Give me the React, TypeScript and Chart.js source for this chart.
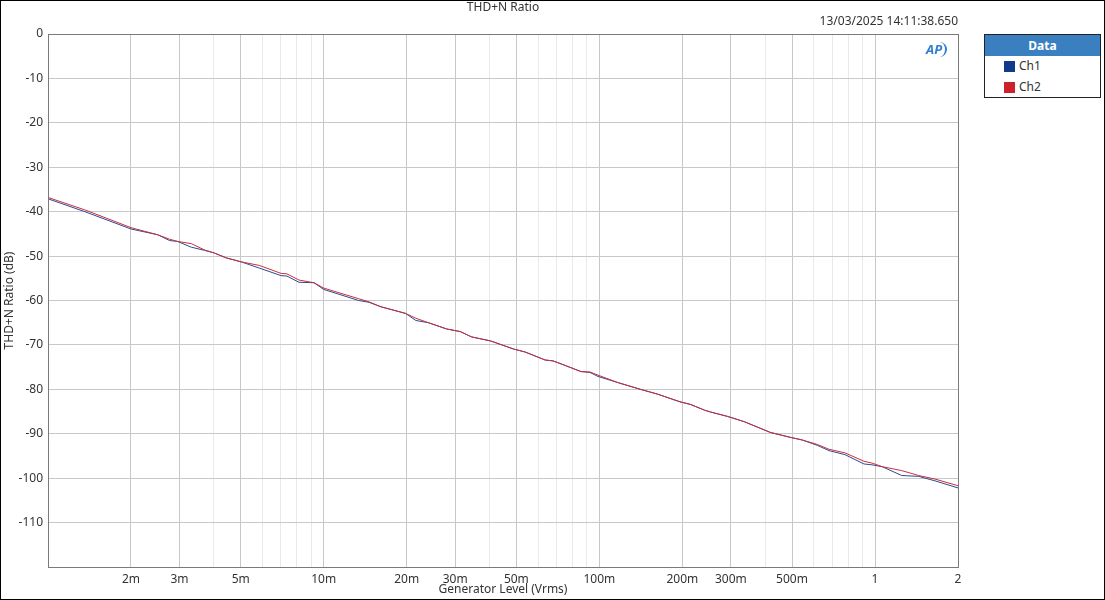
import React, { useEffect, useRef } from "react";
import { Chart, registerables } from "chart.js";

Chart.register(...registerables);

const levels = [0.001, 0.00136, 0.002, 0.0025, 0.00276, 0.00295, 0.00331, 0.00369, 0.00401, 0.00443, 0.00502, 0.00584, 0.00701, 0.00736, 0.00814, 0.00922, 0.01, 0.0134, 0.0146, 0.0161, 0.0198, 0.0216, 0.024, 0.0279, 0.0313, 0.0344, 0.0403, 0.0487, 0.0538, 0.0636, 0.068, 0.0757, 0.0858, 0.0925, 0.0989, 0.117, 0.141, 0.163, 0.196, 0.214, 0.241, 0.253, 0.292, 0.336, 0.417, 0.492, 0.544, 0.617, 0.681, 0.778, 0.912, 0.975, 1.06, 1.25, 1.44, 1.65, 2.0];

const ch1 = [-37.1, -40.0, -43.9, -45.2, -46.5, -46.7, -48.0, -48.7, -49.3, -50.4, -51.3, -52.7, -54.4, -54.5, -55.9, -56.0, -57.5, -60.0, -60.4, -61.4, -62.9, -64.5, -65.0, -66.4, -67.0, -68.2, -69.1, -70.9, -71.6, -73.4, -73.6, -74.7, -76.0, -76.2, -77.1, -78.5, -80.0, -81.1, -82.8, -83.4, -84.7, -85.1, -86.1, -87.3, -89.7, -90.8, -91.4, -92.6, -93.8, -94.7, -96.8, -97.0, -97.4, -99.4, -99.6, -100.6, -102.2];

const ch2 = [-36.8, -39.6, -43.6, -45.2, -46.2, -46.7, -47.2, -48.6, -49.3, -50.4, -51.3, -52.1, -53.9, -54.0, -55.4, -56.0, -57.2, -59.6, -60.3, -61.4, -62.9, -64.0, -65.0, -66.4, -67.0, -68.2, -69.1, -70.9, -71.6, -73.4, -73.6, -74.7, -76.0, -76.1, -76.8, -78.5, -80.0, -81.1, -82.8, -83.4, -84.7, -85.1, -86.1, -87.3, -89.7, -90.8, -91.4, -92.4, -93.5, -94.3, -96.2, -96.6, -97.4, -98.3, -99.4, -100.2, -101.7];

const xTickValues = [
  0.001, 0.002, 0.003, 0.004, 0.005, 0.006, 0.007, 0.008, 0.009,
  0.01, 0.02, 0.03, 0.04, 0.05, 0.06, 0.07, 0.08, 0.09,
  0.1, 0.2, 0.3, 0.4, 0.5, 0.6, 0.7, 0.8, 0.9,
  1, 2,
];
const xLabelValues = [0.002, 0.003, 0.005, 0.01, 0.02, 0.03, 0.05, 0.1, 0.2, 0.3, 0.5, 1, 2];
const xLabelTexts = ["2m", "3m", "5m", "10m", "20m", "30m", "50m", "100m", "200m", "300m", "500m", "1", "2"];
const yTickValues = [0, -10, -20, -30, -40, -50, -60, -70, -80, -90, -100, -110, -120];
const yLabelValues = [0, -10, -20, -30, -40, -50, -60, -70, -80, -90, -100, -110];

const FONT = "'Noto Sans', 'DejaVu Sans', sans-serif";
const CH1_COLOR = "#2a4a94";
const CH2_COLOR = "#c8303a";

function labelIndex(v: number): number {
  return xLabelValues.findIndex((l) => Math.abs(l - v) / l < 1e-6);
}

const framePlugin = {
  id: "frame",
  afterDraw(chart: any) {
    const { ctx, chartArea } = chart;
    ctx.save();
    ctx.strokeStyle = "#7a7a7a";
    ctx.lineWidth = 1;
    ctx.strokeRect(
      Math.round(chartArea.left) + 0.5,
      Math.round(chartArea.top) + 0.5,
      Math.round(chartArea.right - chartArea.left),
      Math.round(chartArea.bottom - chartArea.top)
    );
    ctx.restore();
  },
};

export default function App() {
  const canvasRef = useRef<HTMLCanvasElement | null>(null);

  useEffect(() => {
    if (!canvasRef.current) return;
    const chart = new Chart(canvasRef.current, {
      type: "line",
      data: {
        datasets: [
          {
            label: "Ch1",
            data: levels.map((x, i) => ({ x, y: ch1[i] })),
            borderColor: CH1_COLOR,
            backgroundColor: CH1_COLOR,
            borderWidth: 1,
            pointRadius: 0,
            tension: 0,
            order: 1,
          },
          {
            label: "Ch2",
            data: levels.map((x, i) => ({ x, y: ch2[i] })),
            borderColor: CH2_COLOR,
            backgroundColor: CH2_COLOR,
            borderWidth: 1,
            pointRadius: 0,
            tension: 0,
            order: 0,
          },
        ],
      },
      options: {
        animation: false,
        responsive: false,
        maintainAspectRatio: false,
        layout: { padding: { top: 34, right: 147, left: 0, bottom: 0 } },
        plugins: {
          legend: { display: false },
          tooltip: { enabled: false },
          title: { display: false },
        },
        scales: {
          x: {
            type: "logarithmic",
            min: 0.001,
            max: 2,
            afterBuildTicks: (scale: any) => {
              scale.ticks = xTickValues.map((v) => ({ value: v }));
            },
            afterFit: (scale: any) => {
              scale.height = 33;
            },
            border: { display: false },
            grid: {
              drawTicks: false,
              color: (ctx: any) =>
                ctx.tick && labelIndex(ctx.tick.value) >= 0 ? "#c8c8c8" : "#e9e9e9",
              lineWidth: 1,
            },
            ticks: {
              autoSkip: false,
              maxRotation: 0,
              padding: 5,
              color: "#333333",
              font: { family: FONT, size: 12 },
              callback: (value: any) => {
                const i = labelIndex(Number(value));
                return i >= 0 ? xLabelTexts[i] : "";
              },
            },
            title: {
              display: true,
              text: "Generator Level (Vrms)",
              color: "#333333",
              font: { family: FONT, size: 12 },
              padding: { top: 0, bottom: 3 },
            },
          },
          y: {
            type: "linear",
            min: -120,
            max: 0,
            afterBuildTicks: (scale: any) => {
              scale.ticks = yTickValues.map((v) => ({ value: v }));
            },
            afterFit: (scale: any) => {
              scale.width = 48;
            },
            border: { display: false },
            grid: {
              drawTicks: false,
              color: "#c8c8c8",
              lineWidth: 1,
            },
            ticks: {
              padding: 5,
              color: "#333333",
              font: { family: FONT, size: 12 },
              callback: (value: any) =>
                yLabelValues.includes(Number(value)) ? String(value) : "",
            },
            title: {
              display: true,
              text: "THD+N Ratio (dB)",
              color: "#333333",
              font: { family: FONT, size: 12 },
              padding: { top: 2, bottom: 0 },
            },
          },
        },
      },
      plugins: [framePlugin],
    } as any);
    return () => chart.destroy();
  }, []);

  const text: React.CSSProperties = {
    position: "absolute",
    fontFamily: FONT,
    fontSize: 12,
    color: "#333333",
    lineHeight: "14px",
    whiteSpace: "nowrap",
  };

  return (
    <div
      style={{
        position: "fixed",
        left: 0,
        top: 0,
        width: 1105,
        height: 600,
        background: "#ffffff",
        overflow: "hidden",
      }}
    >
      <canvas
        ref={canvasRef}
        width={1105}
        height={600}
        style={{ position: "absolute", left: 0, top: 0, width: 1105, height: 600 }}
      />
      <div style={{ ...text, left: 48, width: 910, top: 0, textAlign: "center" }}>THD+N Ratio</div>
      <div style={{ ...text, right: 147, top: 14, textAlign: "right" }}>13/03/2025 14:11:38.650</div>
      <div
        style={{
          position: "absolute",
          left: 924,
          top: 42,
          fontFamily: FONT,
          fontSize: 13,
          fontWeight: 700,
          fontStyle: "italic",
          color: "#2f7fd0",
          lineHeight: "15px",
          padding: "0 3px 0 2px",
          borderRight: "2px solid #2f7fd0",
          borderRadius: "0 9px 9px 0",
        }}
      >
        AP
      </div>
      <div
        style={{
          position: "absolute",
          left: 984,
          top: 34,
          width: 117,
          height: 64,
          boxSizing: "border-box",
          border: "1px solid #222222",
          background: "#ffffff",
          fontFamily: FONT,
          fontSize: 12,
        }}
      >
        <div
          style={{
            height: 21,
            background: "#3a7fbf",
            color: "#ffffff",
            fontWeight: 700,
            textAlign: "center",
            lineHeight: "21px",
          }}
        >
          Data
        </div>
        <div style={{ position: "absolute", left: 19, top: 24, display: "flex", alignItems: "center", color: "#333333" }}>
          <span style={{ display: "inline-block", width: 11, height: 11, background: "#123a8a", marginRight: 4 }} />
          <span style={{ lineHeight: "14px" }}>Ch1</span>
        </div>
        <div style={{ position: "absolute", left: 19, top: 45, display: "flex", alignItems: "center", color: "#333333" }}>
          <span style={{ display: "inline-block", width: 11, height: 11, background: "#cc2229", marginRight: 4 }} />
          <span style={{ lineHeight: "14px" }}>Ch2</span>
        </div>
      </div>
      <div
        style={{
          position: "absolute",
          left: 0,
          top: 0,
          width: 1105,
          height: 600,
          boxSizing: "border-box",
          border: "1px solid #000000",
          pointerEvents: "none",
        }}
      />
    </div>
  );
}
